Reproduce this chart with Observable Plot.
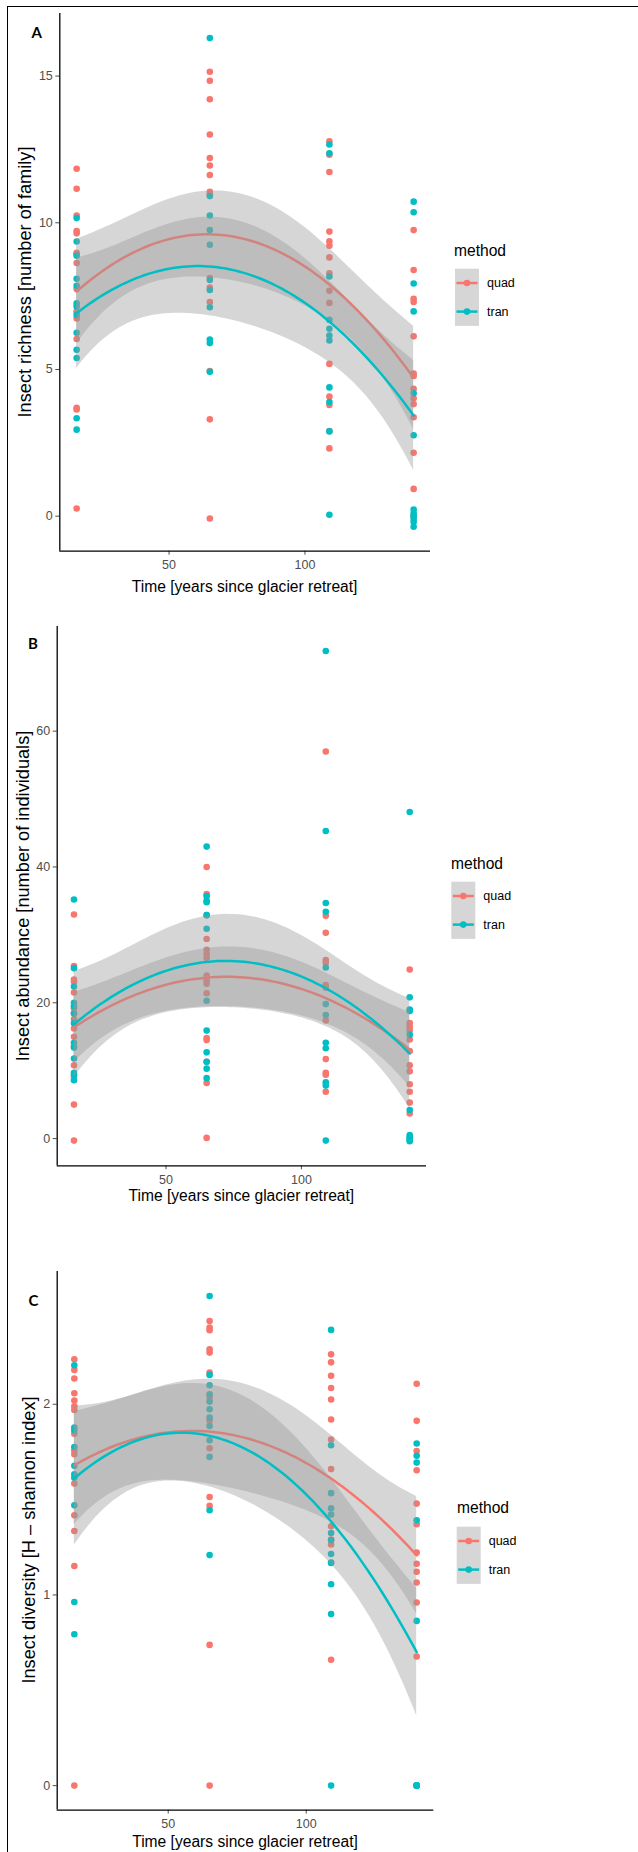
<!DOCTYPE html>
<html>
<head>
<meta charset="utf-8">
<script src="https://cdn.jsdelivr.net/npm/d3@7"></script>
<script src="https://cdn.jsdelivr.net/npm/@observablehq/plot@0.6"></script>
<style>
  html, body { margin: 0; padding: 0; background: #fff; }
  #fig { position: relative; width: 638px; height: 1852px; overflow: hidden; font-family: "Liberation Sans", Arial, sans-serif; }
  .abs { position: absolute; }
  .bt { left: 7px; top: 6px; width: 640px; height: 0; border-top: 1.6px solid #000; }
  .bl { left: 7px; top: 6px; width: 0; height: 1860px; border-left: 1.6px solid #000; }
  .xt { font-size: 15.6px; color: #000; transform: translate(-50%, -50%); white-space: nowrap; }
  .yt { font-size: 18.2px; color: #000; transform: translate(-50%, -50%) rotate(-90deg); white-space: nowrap; }
  .pl { font-family: Lato, "Open Sans", sans-serif; font-weight: 700; font-size: 15px; transform: translate(-50%, -50%); }
  svg.leg text { font-family: "Liberation Sans", Arial, sans-serif; }
</style>
</head>
<body>
<div id="fig"></div>
<script>
// ---------------- data ----------------
const times = [16, 65, 109, 140];
const methods = ["quad", "tran"];
const methodColors = ["#F8766D", "#00BFC4"];

// Panel A: insect richness (number of families), one list per site
const richnessQuad = [
  [11.84, 11.16, 10.25, 9.72, 9.64, 8.98, 8.94, 8.63, 7.74, 6.98, 6.74, 6.04, 3.69, 3.64, 0.26],
  [15.15, 14.84, 14.21, 13.01, 12.21, 11.95, 11.63, 11.06, 10.97, 8.12, 7.79, 7.30, 4.95, 3.30, -0.08],
  [12.78, 12.32, 11.73, 9.70, 9.37, 9.22, 8.82, 8.28, 7.68, 7.27, 5.19, 4.08, 3.79, 2.90, 2.31],
  [9.75, 8.39, 7.41, 7.30, 6.13, 4.86, 4.78, 4.34, 4.02, 3.82, 3.37, 2.16, 0.93, 0.0]
];
const richnessTran = [
  [10.16, 9.36, 8.88, 8.09, 7.85, 7.26, 7.15, 6.86, 6.25, 5.67, 5.39, 3.34, 2.95],
  [16.30, 10.91, 10.25, 9.75, 9.25, 8.05, 7.71, 7.12, 6.02, 5.90, 4.92],
  [12.67, 12.37, 8.17, 6.69, 6.39, 6.16, 5.99, 4.39, 3.89, 2.89, 0.05],
  [10.72, 10.36, 7.93, 6.98, 4.19, 2.76, 0.23, 0.10, 0.00, -0.10, -0.20, -0.36]
];

// Panel B: insect abundance (number of individuals)
const abundanceQuad = [
  [33.0, 25.4, 23.4, 23.1, 21.5, 19.2, 18.5, 17.6, 16.2, 15.0, 13.6, 10.8, 9.1, 5.0, -0.3],
  [40.0, 36.0, 32.9, 29.4, 27.8, 27.2, 26.6, 24.0, 23.3, 22.8, 21.4, 14.8, 14.5, 11.3, 8.2, 0.1],
  [57.0, 32.8, 30.3, 26.3, 25.9, 22.6, 22.2, 17.4, 11.7, 9.7, 9.4, 6.9],
  [24.9, 17.0, 16.5, 16.0, 14.6, 12.9, 10.8, 9.9, 8.0, 6.9, 5.3, 3.7]
];
const abundanceTran = [
  [35.2, 25.1, 22.4, 20.0, 19.5, 18.4, 17.0, 14.1, 13.4, 11.8, 9.7, 9.4, 8.6],
  [43.0, 35.7, 35.0, 34.8, 32.9, 30.9, 20.3, 15.9, 12.7, 11.3, 10.3, 8.9],
  [71.8, 45.3, 34.7, 33.4, 25.2, 19.8, 18.2, 14.1, 13.3, 8.3, 7.8, -0.3],
  [48.1, 20.8, 19.0, 18.8, 15.3, 4.2, 0.5, 0.2, 0.0, -0.2, -0.4]
];

// Panel C: insect diversity (Shannon H)
const diversityQuad = [
  [2.236, 2.18, 2.135, 2.058, 2.02, 1.99, 1.97, 1.846, 1.757, 1.738, 1.584, 1.418, 1.335, 1.152, 0],
  [2.437, 2.402, 2.388, 2.288, 2.271, 2.166, 2.035, 1.913, 1.769, 1.514, 1.467, 0.738, 0],
  [2.262, 2.22, 2.15, 2.085, 2.025, 1.92, 1.815, 1.66, 1.36, 1.29, 1.265, 1.17, 0.66],
  [2.108, 1.913, 1.755, 1.654, 1.479, 1.371, 1.222, 1.164, 1.122, 1.065, 0.96, 0.677, 0, 0]
];
const diversityTran = [
  [2.205, 1.878, 1.864, 1.776, 1.677, 1.633, 1.615, 1.47, 0.963, 0.794],
  [2.568, 2.154, 2.10, 2.052, 2.014, 1.974, 1.93, 1.886, 1.811, 1.724, 1.444, 1.209],
  [2.39, 1.785, 1.534, 1.455, 1.422, 1.325, 1.288, 1.215, 1.168, 1.056, 0.90, 0],
  [1.794, 1.73, 1.694, 1.392, 0.864, 0, 0, 0, 0, 0]
];

const xTicks = [50, 100];
const richnessTicks = [0, 5, 10, 15];
const abundanceTicks = [0, 20, 40, 60];
const diversityTicks = [0, 1, 2];
const xTitle = "Time [years since glacier retreat]";
const yTitles = ["Insect richness [number of family]", "Insect abundance [number of individuals]", "Insect diversity [H – shannon index]"];
const panelLetters = ["A", "B", "C"];
const legendTitle = "method";

// ---------------- layout (pixels) ----------------
const layout = [
  {left: 59.3, right: 430, top: 13, bottom: 550.7, xTitleY: 586.5, yTitleX: 25, letter: [36.7, 32], legend: {x: 454, titleY: 250, boxX: 455, keyY: 283}},
  {left: 56.7, right: 426, top: 626, bottom: 1165.3, xTitleY: 1196, yTitleX: 23, letter: [33, 643], legend: {x: 450.7, titleY: 863, boxX: 451, keyY: 896}},
  {left: 56.7, right: 433.3, top: 1270.7, bottom: 1809.3, xTitleY: 1842, yTitleX: 29, letter: [33.5, 1300], legend: {x: 457.3, titleY: 1507, boxX: 457, keyY: 1541}}
];

// ---------------- helpers ----------------
function tQuantile975(df) {
  const z = 1.959963985;
  return z + (z ** 3 + z) / (4 * df) + (5 * z ** 5 + 16 * z ** 3 + 3 * z) / (96 * df * df)
    + (3 * z ** 7 + 19 * z ** 5 + 17 * z ** 3 - 15 * z) / (384 * df ** 3);
}
function inv3(m) {
  const [a, b, c] = m[0], [d, e, f] = m[1], [g, h, i] = m[2];
  const A = e * i - f * h, B = -(d * i - f * g), C = d * h - e * g;
  const det = a * A + b * B + c * C;
  return [
    [A / det, -(b * i - c * h) / det, (b * f - c * e) / det],
    [B / det, (a * i - c * g) / det, -(a * f - c * d) / det],
    [C / det, -(a * h - b * g) / det, (a * e - b * d) / det]
  ];
}
// lm(y ~ poly(x, 2)) with 95% confidence band, like geom_smooth
function quadFit(xs, ys, n = 80) {
  const c = 78, s = 50;
  const basis = x => { const u = (x - c) / s; return [1, u, u * u]; };
  const M = [[0, 0, 0], [0, 0, 0], [0, 0, 0]], b = [0, 0, 0];
  xs.forEach((x, i) => {
    const v = basis(x);
    for (let r = 0; r < 3; r++) { b[r] += v[r] * ys[i]; for (let k = 0; k < 3; k++) M[r][k] += v[r] * v[k]; }
  });
  const inv = inv3(M);
  const beta = inv.map(row => row[0] * b[0] + row[1] * b[1] + row[2] * b[2]);
  const pred = v => beta[0] * v[0] + beta[1] * v[1] + beta[2] * v[2];
  let rss = 0;
  xs.forEach((x, i) => { rss += (ys[i] - pred(basis(x))) ** 2; });
  const df = xs.length - 3, s2 = rss / df, t = tQuantile975(df);
  const [lo, hi] = d3.extent(xs);
  return d3.range(n).map(j => {
    const x = lo + (hi - lo) * j / (n - 1);
    const v = basis(x);
    let q = 0;
    for (let r = 0; r < 3; r++) for (let k = 0; k < 3; k++) q += v[r] * inv[r][k] * v[k];
    const f = pred(v), se = Math.sqrt(s2 * q);
    return {x, fit: f, lo: f - t * se, hi: f + t * se};
  });
}
const toPoints = (lists) => lists.flatMap((vals, i) => vals.map(v => ({x: times[i], y: v})));
const expand = ([a, b]) => [a - (b - a) * 0.05, b + (b - a) * 0.05];

// ---------------- draw ----------------
const fig = document.getElementById("fig");
const panels = [
  {quad: richnessQuad, tran: richnessTran, ticks: richnessTicks},
  {quad: abundanceQuad, tran: abundanceTran, ticks: abundanceTicks},
  {quad: diversityQuad, tran: diversityTran, ticks: diversityTicks}
];

panels.forEach((p, k) => {
  const L = layout[k];
  const series = [toPoints(p.quad), toPoints(p.tran)];
  const fits = series.map(pts => quadFit(pts.map(d => d.x), pts.map(d => d.y)));
  const allY = series.flat().map(d => d.y).concat(fits.flat().flatMap(d => [d.lo, d.hi]));
  const yDomain = expand(d3.extent(allY));
  const xDomain = expand(d3.extent(times));

  const padTop = 10, padBottom = 40;
  const height = (L.bottom - L.top) + padTop + padBottom;
  const marks = [];
  series.forEach((pts, m) => marks.push(Plot.dot(pts, {x: "x", y: "y", r: 3.3, fill: methodColors[m], stroke: "none"})));
  fits.forEach((f, m) => {
    marks.push(Plot.areaY(f, {x: "x", y1: "lo", y2: "hi", fill: "#999999", fillOpacity: 0.4, curve: "linear"}));
    marks.push(Plot.line(f, {x: "x", y: "fit", stroke: methodColors[m], strokeWidth: 2.5, curve: "linear"}));
  });
  marks.push(Plot.axisX({ticks: xTicks, tickSize: 4, tickPadding: 5, fontSize: 12.5, color: "#4d4d4d", label: null, tickFormat: d => String(d)}));
  marks.push(Plot.axisY({ticks: p.ticks, tickSize: 4, tickPadding: 3, fontSize: 12.5, color: "#4d4d4d", label: null, tickFormat: d => String(d)}));
  marks.push(Plot.ruleX([xDomain[0]], {stroke: "#000", strokeWidth: 1.3}));
  marks.push(Plot.ruleY([yDomain[0]], {stroke: "#000", strokeWidth: 1.3}));

  const plot = Plot.plot({
    width: 638, height,
    marginLeft: L.left, marginRight: 638 - L.right,
    marginTop: padTop, marginBottom: padBottom,
    x: {domain: xDomain, label: null},
    y: {domain: yDomain, label: null},
    style: {fontFamily: "Liberation Sans, Arial, sans-serif", background: "transparent", overflow: "visible"},
    marks
  });
  plot.classList.add("abs");
  plot.style.left = "0px";
  plot.style.top = (L.top - padTop) + "px";
  fig.appendChild(plot);

  // axis titles
  const xt = document.createElement("div");
  xt.className = "abs xt"; xt.textContent = xTitle;
  xt.style.left = ((L.left + L.right) / 2) + "px"; xt.style.top = L.xTitleY + "px";
  fig.appendChild(xt);
  const yt = document.createElement("div");
  yt.className = "abs yt"; yt.textContent = yTitles[k];
  yt.style.left = L.yTitleX + "px"; yt.style.top = ((L.top + L.bottom) / 2) + "px";
  fig.appendChild(yt);
  const pl = document.createElement("div");
  pl.className = "abs pl"; pl.textContent = panelLetters[k];
  pl.style.left = L.letter[0] + "px"; pl.style.top = L.letter[1] + "px";
  fig.appendChild(pl);

  // legend
  const lg = L.legend, keyH = 28.6, keyW = 24;
  const svgNS = "http://www.w3.org/2000/svg";
  const leg = document.createElementNS(svgNS, "svg");
  leg.setAttribute("class", "abs leg");
  leg.setAttribute("width", 110); leg.setAttribute("height", 110);
  leg.style.left = (lg.x - 2) + "px"; leg.style.top = (lg.titleY - 15) + "px";
  const ox = lg.x - 2, oy = lg.titleY - 15;
  const mk = (tag, attrs, text) => { const e = document.createElementNS(svgNS, tag); for (const a in attrs) e.setAttribute(a, attrs[a]); if (text) e.textContent = text; leg.appendChild(e); return e; };
  mk("text", {x: lg.x - ox, y: lg.titleY - oy, "dominant-baseline": "central", "font-size": 15.6, fill: "#000"}, legendTitle);
  mk("rect", {x: lg.boxX - ox, y: lg.keyY - keyH / 2 - oy, width: keyW, height: keyH * 2, fill: "#999999", "fill-opacity": 0.4});
  methods.forEach((name, m) => {
    const cy = lg.keyY + m * keyH - oy;
    mk("line", {x1: lg.boxX - ox + 1.5, x2: lg.boxX - ox + keyW - 1.5, y1: cy, y2: cy, stroke: methodColors[m], "stroke-width": 2.5});
    mk("circle", {cx: lg.boxX - ox + keyW / 2, cy, r: 3.3, fill: methodColors[m]});
    mk("text", {x: lg.boxX - ox + keyW + 8, y: cy, "dominant-baseline": "central", "font-size": 12.5, fill: "#000"}, name);
  });
  fig.appendChild(leg);
});

// outer frame (top and left edges of the pasted figure)
["bt", "bl"].forEach(c => { const d = document.createElement("div"); d.className = "abs " + c; fig.appendChild(d); });
</script>
</body>
</html>
